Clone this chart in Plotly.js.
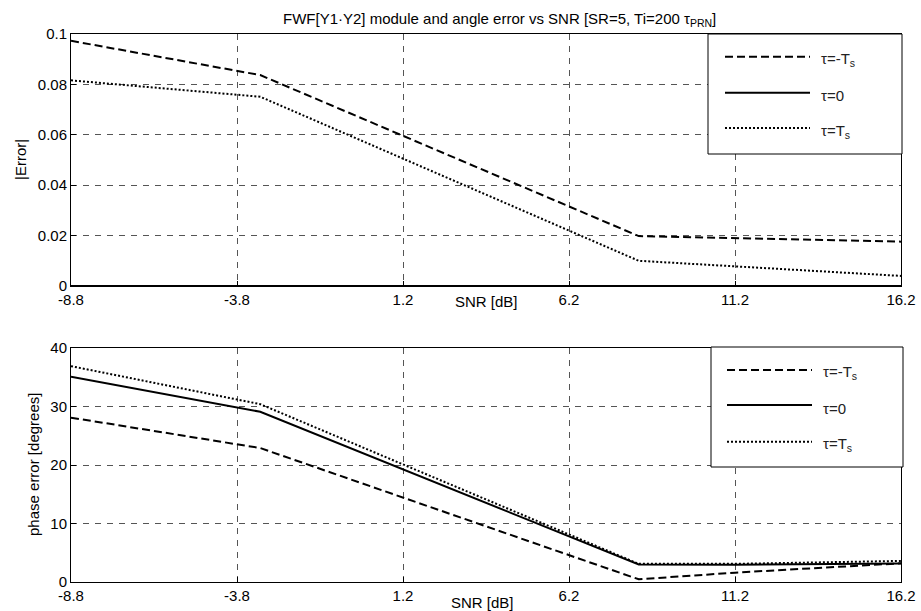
<!DOCTYPE html>
<html>
<head>
<meta charset="utf-8">
<script src="https://cdn.plot.ly/plotly-3.0.1.min.js"></script>
<style>html,body{margin:0;padding:0;background:#fff;}#chart{width:921px;height:611px;}</style>
</head>
<body>
<div id="chart"></div>
<script>
// ---- data ----
const snr = [-8.8, -3.1, 8.3, 11.2, 16.2];
const modNeg  = [0.0973, 0.0837, 0.0198, 0.0189, 0.0176];
const modZero = [0, 0, 0, 0, 0];
const modPos  = [0.0816, 0.0751, 0.0100, 0.0077, 0.0040];
const phNeg  = [28.1, 22.9, 0.46, 1.6, 3.2];
const phZero = [35.1, 29.1, 3.0, 2.95, 3.15];
const phPos  = [36.9, 30.4, 3.1, 3.1, 3.6];
const xTicks = [-8.8, -3.8, 1.2, 6.2, 11.2, 16.2];
const xTickText = ['-8.8', '-3.8', '1.2', '6.2', '11.2', '16.2'];
const topYTicks = [0, 0.02, 0.04, 0.06, 0.08, 0.1];
const topYText = ['0', '0.02', '0.04', '0.06', '0.08', '0.1'];
const botYTicks = [0, 10, 20, 30, 40];
const legendNames = ['τ=-T<sub>s</sub>', 'τ=0', 'τ=T<sub>s</sub>'];
const chartTitle = 'FWF[Y1·Y2] module and angle error vs SNR [SR=5, Ti=200 τ<sub>PRN</sub>]';

const FONT = 'Liberation Sans, Arial, sans-serif';
const FS = 15;
const dashes = ['8px,4px', 'solid', '2px,2px'];

function tr(x, y, dash, xa, ya, name) {
  return {x: x, y: y, type: 'scatter', mode: 'lines', name: name, xaxis: xa, yaxis: ya,
          line: {color: '#000', width: 2, dash: dash}, showlegend: false, hoverinfo: 'x+y'};
}

const data = [
  tr(snr, modNeg, dashes[0], 'x', 'y', legendNames[0]),
  tr(snr, modZero, dashes[1], 'x', 'y', legendNames[1]),
  tr(snr, modPos, dashes[2], 'x', 'y', legendNames[2]),
  tr(snr, phNeg, dashes[0], 'x2', 'y2', legendNames[0]),
  tr(snr, phZero, dashes[1], 'x2', 'y2', legendNames[1]),
  tr(snr, phPos, dashes[2], 'x2', 'y2', legendNames[2])
];

const axBase = {
  showline: true, linecolor: '#000', linewidth: 1, mirror: true,
  ticks: 'inside', ticklen: 5, tickcolor: '#000',
  showgrid: true, gridcolor: '#555', gridwidth: 1, griddash: '6px,6px',
  zeroline: false, tickfont: {family: FONT, size: FS, color: '#000'}
};

// custom legends and titles (paper coords)
function px2x(p) { return (p - 71) / 830; }
function py2y(p) { return (582 - p) / 548; }
const shapes = [];
const annotations = [];
function addLegend(x0, x1, y0, y1, rows, lx0, lx1, tx) {
  shapes.push({type: 'rect', xref: 'paper', yref: 'paper', x0: px2x(x0), x1: px2x(x1),
               y0: py2y(y1), y1: py2y(y0), line: {color: '#000', width: 1}, fillcolor: '#fff', layer: 'above'});
  rows.forEach((ry, i) => {
    shapes.push({type: 'line', xref: 'paper', yref: 'paper', x0: px2x(lx0), x1: px2x(lx1),
                 y0: py2y(ry), y1: py2y(ry), line: {color: '#000', width: 2, dash: dashes[i]}, layer: 'above'});
    annotations.push({xref: 'paper', yref: 'paper', x: px2x(tx), y: py2y(ry + 3), xanchor: 'left', yanchor: 'middle',
                      text: legendNames[i], showarrow: false, font: {family: FONT, size: FS, color: '#222'}});
  });
}
addLegend(708, 902, 34, 154, [56.7, 92.7, 128], 725, 810, 819);
addLegend(711, 903, 347, 467, [370, 405, 441.7], 727, 812, 821);

function axTitle(text, xp, yp, angle) {
  annotations.push({xref: 'paper', yref: 'paper', x: px2x(xp), y: py2y(yp), xanchor: 'center', yanchor: 'middle',
                    text: text, textangle: angle, showarrow: false, font: {family: FONT, size: FS, color: '#000'}});
}
axTitle(chartTitle, 500, 20, 0);
axTitle('SNR [dB]', 486, 301, 0);
axTitle('SNR [dB]', 482, 602, 0);
axTitle('|Error|', 20, 160, -90);
axTitle('phase error [degrees]', 33, 465, -90);

const layout = {
  width: 921, height: 611,
  margin: {l: 71, r: 20, t: 34, b: 29},
  paper_bgcolor: '#fff', plot_bgcolor: '#fff',
  showlegend: false,
  font: {family: FONT, size: FS, color: '#000'},
  xaxis: Object.assign({}, axBase, {domain: [0, 1], anchor: 'y', range: [-8.8, 16.2],
          tickvals: xTicks, ticktext: xTickText}),
  yaxis: Object.assign({}, axBase, {domain: [1 - 252/548, 1], anchor: 'x', range: [0, 0.1],
          tickvals: topYTicks, ticktext: topYText}),
  xaxis2: Object.assign({}, axBase, {domain: [0, 1], anchor: 'y2', range: [-8.8, 16.2],
          tickvals: xTicks, ticktext: xTickText}),
  yaxis2: Object.assign({}, axBase, {domain: [0, 1 - 314/548], anchor: 'x2', range: [0, 40],
          tickvals: botYTicks}),
  shapes: shapes,
  annotations: annotations
};

Plotly.newPlot('chart', data, layout, {displayModeBar: false, staticPlot: true});
</script>
</body>
</html>
